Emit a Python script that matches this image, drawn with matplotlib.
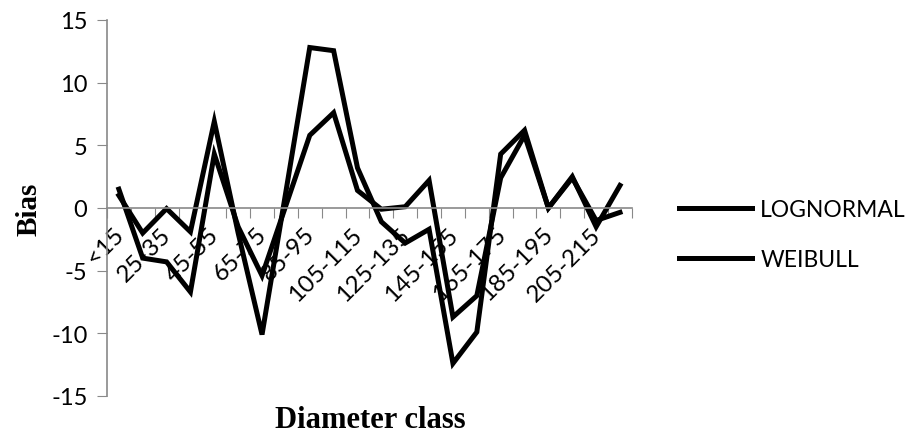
import matplotlib.pyplot as plt
import matplotlib.transforms as mtransforms
import numpy as np

classes = ['<15', '15-25', '25-35', '35-45', '45-55', '55-65', '65-75', '75-85',
           '85-95', '95-105', '105-115', '115-125', '125-135', '135-145', '145-155',
           '155-165', '165-175', '175-185', '185-195', '195-205', '205-215', '215-225']
lognormal = [1.5, -4.0, -4.3, -6.7, 4.3, -1.5, -5.4, 0.2, 5.8, 7.6, 1.4,
             -0.1, 0.1, 2.2, -8.7, -7.0, 2.4, 5.8, 0.0, 2.4, -1.0, -0.35]
weibull = [1.0, -2.0, -0.05, -1.9, 6.9, -2.0, -10.1, 1.3, 12.8, 12.55, 3.2,
           -1.1, -2.8, -1.7, -12.4, -9.9, 4.3, 6.2, 0.0, 2.5, -1.5, 1.8]

grey = '#898989'
plt.rcParams['font.family'] = ['Lato', 'DejaVu Sans']
plt.rcParams['axes.unicode_minus'] = False

fig = plt.figure(figsize=(9.06, 4.35), dpi=100)
ax = fig.add_axes([0.118, 0.0874, 0.5795, 0.8644])

x = np.arange(len(classes))
ax.plot(x, lognormal, color='black', lw=3.6, label='LOGNORMAL', solid_joinstyle='miter')
ax.plot(x, weibull, color='black', lw=3.6, label='WEIBULL', solid_joinstyle='miter')

ax.set_xlim(-0.5, len(classes) - 0.5)
ax.set_ylim(-15, 15)
ax.set_yticks([-15, -10, -5, 0, 5, 10, 15])
ax.tick_params(axis='y', direction='out', length=7, color=grey, labelsize=17, pad=7)

for s in ['top', 'right']:
    ax.spines[s].set_visible(False)
ax.spines['left'].set_color(grey)
ax.spines['bottom'].set_color(grey)
ax.spines['bottom'].set_position(('data', 0))
ax.spines['left'].set_linewidth(1.2)
ax.spines['bottom'].set_linewidth(1.2)

# tick marks on category edges, labels on every other category centre
ax.set_xticks(np.arange(-0.5, len(classes), 1))
ax.set_xticklabels([])
ax.tick_params(axis='x', which='major', direction='out', length=7, color=grey)
ax.set_xticks(x[::2], minor=True)
ax.set_xticklabels(classes[::2], minor=True, rotation=45, ha='right',
                   rotation_mode='anchor', fontsize=17.5)
ax.tick_params(axis='x', which='minor', length=0, pad=11)
shift = mtransforms.ScaledTranslation(-6 / 100, 0, fig.dpi_scale_trans)
for lab in ax.get_xticklabels(minor=True):
    lab.set_transform(lab.get_transform() + shift)

ax.set_ylabel('Bias', family='Liberation Serif', fontweight='bold', fontsize=21, labelpad=6)
fig.text(370 / 906, 1 - 428 / 435, 'Diameter class',
         family='Liberation Serif', fontweight='bold', fontsize=22, ha='center')

ax.legend(loc='center left', bbox_to_anchor=(1.05, 0.43), frameon=False, fontsize=16.5,
          handlelength=3.2, labelspacing=1.25, handletextpad=0.35)

fig.savefig('out.png', dpi=100)
